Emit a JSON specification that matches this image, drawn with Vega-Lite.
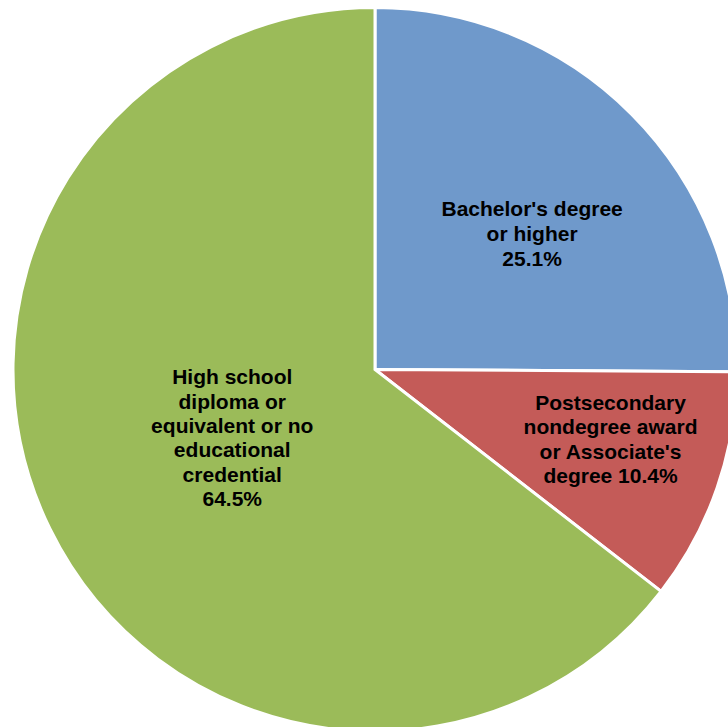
{
  "$schema": "https://vega.github.io/schema/vega-lite/v6.json",
  "width": 706,
  "height": 715,
  "autosize": "none",
  "padding": {"left": 22, "top": 12, "right": 0, "bottom": 0},
  "background": "white",
  "view": {"stroke": null},
  "data": {
    "values": [
      {"rank": 1, "category": "Bachelor's degree or higher", "share": 25.1, "label": "Bachelor's degree\nor higher\n25.1%"},
      {"rank": 2, "category": "Postsecondary nondegree award or Associate's degree", "share": 10.4, "label": "Postsecondary\nnondegree award\nor Associate's\ndegree 10.4%"},
      {"rank": 3, "category": "High school diploma or equivalent or no educational credential", "share": 64.5, "label": "High school\ndiploma or\nequivalent or no\neducational\ncredential\n64.5%"}
    ]
  },
  "encoding": {
    "theta": {"field": "share", "type": "quantitative", "stack": true},
    "order": {"field": "rank", "type": "quantitative", "sort": "ascending"}
  },
  "layer": [
    {
      "mark": {"type": "arc", "radius": 362, "stroke": "white", "strokeWidth": 3},
      "encoding": {
        "color": {
          "field": "category",
          "type": "nominal",
          "scale": {
            "domain": ["Bachelor's degree or higher", "Postsecondary nondegree award or Associate's degree", "High school diploma or equivalent or no educational credential"],
            "range": ["#6F99CB", "#C45B58", "#9BBB59"]
          },
          "legend": null
        }
      }
    },
    {
      "mark": {"type": "text", "radius": 206, "dx": 11, "dy": -14, "font": "Liberation Sans", "fontWeight": "bold", "fontSize": 21, "lineBreak": "\n", "lineHeight": 25, "align": "center", "baseline": "middle", "color": "black"},
      "encoding": {"text": {"condition": {"test": "datum.rank == 1", "field": "label"}, "value": ""}}
    },
    {
      "mark": {"type": "text", "radius": 245, "dx": 4, "dy": -46, "font": "Liberation Sans", "fontWeight": "bold", "fontSize": 21, "lineBreak": "\n", "lineHeight": 24.5, "align": "center", "baseline": "middle", "color": "black"},
      "encoding": {"text": {"condition": {"test": "datum.rank == 2", "field": "label"}, "value": ""}}
    },
    {
      "mark": {"type": "text", "radius": 159, "dx": 0, "dy": -61, "font": "Liberation Sans", "fontWeight": "bold", "fontSize": 21, "lineBreak": "\n", "lineHeight": 24.3, "align": "center", "baseline": "middle", "color": "black"},
      "encoding": {"text": {"condition": {"test": "datum.rank == 3", "field": "label"}, "value": ""}}
    }
  ]
}
